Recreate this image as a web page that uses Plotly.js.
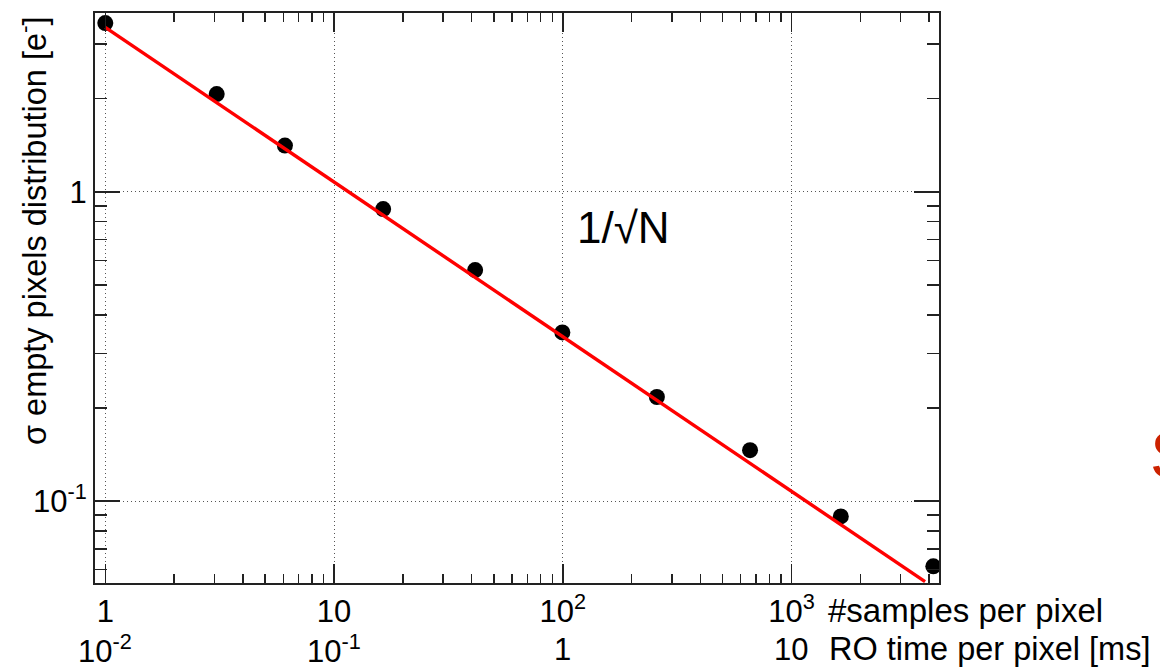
<!DOCTYPE html>
<html>
<head>
<meta charset="utf-8">
<script src="https://cdn.plot.ly/plotly-3.0.1.min.js"></script>
<style>html,body{margin:0;padding:0;background:#fff;}#chart{width:1160px;height:669px;}</style>
</head>
<body>
<div id="chart"></div>
<script>
// ---- data ----
const nSamples = [1, 3.07, 6.1, 16.4, 41.4, 99.6, 258, 659, 1643, 4170];
const sigmaEmpty = [3.51, 2.07, 1.41, 0.879, 0.558, 0.351, 0.217, 0.146, 0.0892, 0.0615];
const fitX = [1, 3838];
const fitY = [3.40, 0.0549];

const xTickVals = [1, 10, 100, 1000];
const xTickRow1 = ['1', '10', '10<sup>2</sup>', '10<sup>3</sup>'];
const xTickRow2 = ['10<sup>-2</sup>', '10<sup>-1</sup>', '1', '10'];
const yTickVals = [0.1, 1];
const yTickText = ['10<sup>-1</sup>', '1'];

const xTitle1 = '#samples per pixel';
const xTitle2 = 'RO time per pixel [ms]';
const yTitle = 'σ empty pixels distribution [e<sup>-</sup>]';
const fitLabel = '1/√N';

// ---- layout ----
const xRange = [-0.045, 3.645];
const yRange = [-1.265, 0.578];
const ML = 95, MR = 221, MT = 13, MB = 86, W = 1160, H = 669;
const plotW = W - ML - MR, plotH = H - MT - MB;
const py = p => (H - MB - p) / plotH;   // pixel row -> paper y
const px = p => (p - ML) / plotW;       // pixel col -> paper x

function minorVals(lo, hi) {
  const v = [];
  for (let e = lo; e <= hi; e++) for (let d = 2; d <= 9; d++) v.push(d * Math.pow(10, e));
  return v;
}

const FONT = 'Liberation Sans, Arial, Helvetica, sans-serif';
const axCol = '#222';
const TICKSIZE = 31;

const traces = [
  {x: nSamples, y: sigmaEmpty, type: 'scatter', mode: 'markers',
   marker: {color: 'black', size: 16}, hoverinfo: 'x+y'},
  {x: fitX, y: fitY, type: 'scatter', mode: 'lines', xaxis: 'x2', yaxis: 'y2',
   line: {color: '#ff0000', width: 3.4}, hoverinfo: 'skip'}
];

const annotations = [];
xTickVals.forEach((v, i) => {
  annotations.push({xref: 'x', yref: 'paper', x: Math.log10(v), y: py(649), text: xTickRow2[i],
    showarrow: false, xanchor: 'center', yanchor: 'middle', font: {size: TICKSIZE, family: FONT, color: 'black'}});
});
annotations.push({xref: 'paper', yref: 'paper', x: px(826), y: py(610), text: xTitle1, showarrow: false,
  xanchor: 'left', yanchor: 'middle', font: {size: 33, family: FONT, color: 'black'}});
annotations.push({xref: 'paper', yref: 'paper', x: px(827), y: py(649), text: xTitle2, showarrow: false,
  xanchor: 'left', yanchor: 'middle', font: {size: 32.5, family: FONT, color: 'black'}});
annotations.push({xref: 'paper', yref: 'paper', x: px(32), y: py(231), text: yTitle, textangle: -90,
  showarrow: false, xanchor: 'center', yanchor: 'middle', font: {size: 32.5, family: FONT, color: 'black'}});
annotations.push({xref: 'x', yref: 'y', x: Math.log10(185), y: Math.log10(0.765), text: fitLabel,
  showarrow: false, xanchor: 'center', yanchor: 'middle', font: {size: 44, family: FONT, color: 'black'}});
annotations.push({xref: 'paper', yref: 'paper', x: px(1148), y: py(455), text: 'S', showarrow: false,
  xanchor: 'left', yanchor: 'middle', font: {size: 66, family: FONT, color: '#cc2200'}});

const baseAxis = {
  type: 'log', showline: true, linecolor: axCol, linewidth: 2, zeroline: false,
  ticks: 'inside', tickcolor: axCol, tickwidth: 1.5, mirror: 'allticks',
  tickfont: {size: TICKSIZE, family: FONT, color: 'black'}, tickmode: 'array'
};

const layout = {
  width: W, height: H,
  margin: {l: ML, r: MR, t: MT, b: MB, pad: 0},
  paper_bgcolor: 'white', plot_bgcolor: 'white',
  showlegend: false,
  font: {family: FONT, color: 'black'},
  xaxis: Object.assign({}, baseAxis, {
    range: xRange, tickvals: xTickVals, ticktext: xTickRow1, ticklen: 19,
    showgrid: true, gridcolor: '#555', gridwidth: 1, griddash: '1px,3px'
  }),
  yaxis: Object.assign({}, baseAxis, {
    range: yRange, tickvals: yTickVals, ticktext: yTickText, ticklen: 25,
    showgrid: true, gridcolor: '#555', gridwidth: 1, griddash: '1px,3px'
  }),
  xaxis2: Object.assign({}, baseAxis, {
    overlaying: 'x', anchor: 'y2', side: 'bottom', range: xRange,
    tickvals: minorVals(-1, 3), ticklen: 9, showticklabels: false, showgrid: false, showline: false
  }),
  yaxis2: Object.assign({}, baseAxis, {
    overlaying: 'y', anchor: 'x2', side: 'left', range: yRange,
    tickvals: minorVals(-2, 0), ticklen: 12, showticklabels: false, showgrid: false, showline: false
  }),
  annotations: annotations
};

Plotly.newPlot('chart', traces, layout, {displayModeBar: false, staticPlot: true});
</script>
</body>
</html>
